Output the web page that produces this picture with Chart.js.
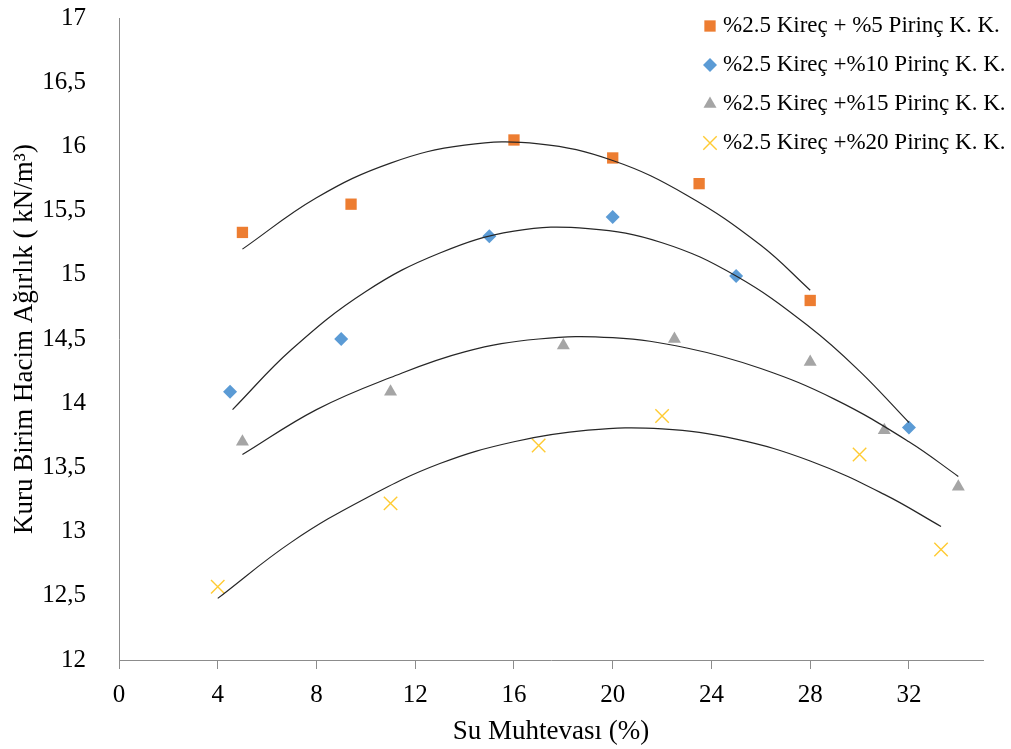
<!DOCTYPE html>
<html>
<head>
<meta charset="utf-8">
<script src="https://cdn.jsdelivr.net/npm/chart.js@4.4.1/dist/chart.umd.min.js"></script>
<style>
  html, body { margin: 0; padding: 0; background: #fff; }
  #chart { display: block; }
</style>
</head>
<body>
<canvas id="chart" width="1011" height="749"></canvas>
<script>
const FONT = '"Liberation Serif", "Times New Roman", serif';

const seriesNames = [
  "%2.5 Kireç + %5 Pirinç K. K.",
  "%2.5 Kireç +%10 Pirinç K. K.",
  "%2.5 Kireç +%15 Pirinç K. K.",
  "%2.5 Kireç +%20 Pirinç K. K.",
];

// measured points (water content %, dry unit weight kN/m3)
const water5 = [5, 9.4, 16, 20, 23.5, 28];
const unit5 = [15.33, 15.55, 16.05, 15.91, 15.71, 14.8];

const water10 = [4.5, 9, 15, 20, 25, 32];
const unit10 = [14.09, 14.5, 15.3, 15.45, 14.99, 13.81];

const water15 = [5, 11, 18, 22.5, 28, 31, 34];
const unit15 = [13.7, 14.09, 14.45, 14.5, 14.32, 13.79, 13.35];

const water20 = [4, 11, 17, 22, 30, 33.3];
const unit20 = [12.57, 13.22, 13.67, 13.9, 13.6, 12.86];

// trendlines
const trend5X = [5, 8, 11, 14, 17, 20, 23, 26, 28];
const trend5Y = [15.2, 15.6, 15.87, 16.01, 16.02, 15.89, 15.62, 15.23, 14.88];

const trend10X = [4.6, 7, 10, 13, 16, 19, 22, 25, 28, 30, 32];
const trend10Y = [13.95, 14.42, 14.87, 15.17, 15.34, 15.36, 15.25, 14.99, 14.59, 14.25, 13.85];

const trend15X = [5, 8, 11, 14, 17, 20, 23, 26, 29, 32, 34];
const trend15Y = [13.6, 13.95, 14.2, 14.4, 14.5, 14.51, 14.43, 14.27, 14.03, 13.7, 13.43];

const trend20X = [4, 7, 10, 13, 16, 19, 22, 25, 28, 31, 33.3];
const trend20Y = [12.48, 12.92, 13.26, 13.53, 13.7, 13.79, 13.8, 13.72, 13.55, 13.29, 13.04];

function toPoints(xs, ys) {
  return xs.map((x, i) => ({ x, y: ys[i] }));
}

function markerSet(label, xs, ys, color, style, radius, lineWidth = 0) {
  return {
    label,
    data: toPoints(xs, ys),
    showLine: false,
    pointStyle: style,
    pointRadius: radius,
    pointHoverRadius: radius,
    pointBackgroundColor: color,
    pointBorderColor: color,
    pointBorderWidth: lineWidth,
    order: 1,
  };
}

function trendSet(xs, ys) {
  return {
    label: "",
    isTrend: true,
    data: toPoints(xs, ys),
    showLine: true,
    borderColor: "#262626",
    borderWidth: 1.2,
    pointRadius: 0,
    tension: 0.4,
    order: 0,
  };
}

// legend sits inside the plot, top right
const cornerLegend = {
  id: "cornerLegend",
  afterDraw(chart) {
    const ctx = chart.ctx;
    const marks = chart.data.datasets.filter((d) => !d.isTrend);
    ctx.save();
    ctx.font = `23px ${FONT}`;
    ctx.textBaseline = "middle";
    marks.forEach((d, i) => {
      const y = 26 + i * 39;
      ctx.fillStyle = d.pointBackgroundColor;
      ctx.strokeStyle = d.pointBorderColor;
      ctx.lineWidth = d.pointBorderWidth;
      Chart.helpers.drawPoint(
        ctx,
        { pointStyle: d.pointStyle, radius: d.pointRadius, rotation: 0, borderWidth: d.pointBorderWidth },
        710,
        y
      );
      ctx.fillStyle = "#000";
      ctx.fillText(d.label, 723, y);
    });
    ctx.restore();
  },
};

function init() {
  new Chart(document.getElementById("chart"), {
    type: "scatter",
    data: {
      datasets: [
        markerSet(seriesNames[0], water5, unit5, "#ED7D31", "rect", 8),
        markerSet(seriesNames[1], water10, unit10, "#5B9BD5", "rectRot", 7),
        markerSet(seriesNames[2], water15, unit15, "#A5A5A5", "triangle", 7.5),
        markerSet(seriesNames[3], water20, unit20, "#FFCB33", "crossRot", 9.5, 1.4),
        trendSet(trend5X, trend5Y),
        trendSet(trend10X, trend10Y),
        trendSet(trend15X, trend15Y),
        trendSet(trend20X, trend20Y),
      ],
    },
    options: {
      responsive: false,
      animation: false,
      devicePixelRatio: 1,
      layout: { padding: { left: 0, top: 18, right: 28, bottom: 0 } },
      plugins: {
        legend: { display: false },
        tooltip: { enabled: false },
      },
      scales: {
        x: {
          type: "linear",
          min: 0,
          max: 35,
          afterBuildTicks: (s) => {
            s.ticks = s.ticks.filter((t) => t.value % 4 === 0);
          },
          afterFit: (s) => {
            s.height = 89;
          },
          ticks: {
            stepSize: 4,
            autoSkip: false,
            maxRotation: 0,
            padding: 11,
            color: "#000",
            font: { family: FONT, size: 25 },
          },
          grid: { drawOnChartArea: false, drawTicks: true, tickLength: 9, color: "#8c8c8c" },
          border: { color: "#8c8c8c", width: 1 },
          title: {
            display: true,
            text: "Su Muhtevası (%)",
            color: "#000",
            font: { family: FONT, size: 27 },
            padding: { top: 0, bottom: 1 },
          },
        },
        y: {
          type: "linear",
          min: 12,
          max: 17,
          afterFit: (s) => {
            s.width = 119;
            s.paddingTop = 0;
            s.paddingBottom = 0;
          },
          ticks: {
            stepSize: 0.5,
            padding: 25,
            color: "#000",
            font: { family: FONT, size: 25 },
            callback: (v) => String(v).replace(".", ","),
          },
          grid: { display: false },
          border: { color: "#8c8c8c", width: 1 },
          title: {
            display: true,
            text: "Kuru Birim Hacim Ağırlık ( kN/m³)",
            color: "#000",
            font: { family: FONT, size: 27 },
            padding: { top: 9, bottom: 0 },
          },
        },
      },
    },
    plugins: [cornerLegend],
  });
}

window.addEventListener("load", init);
</script>
</body>
</html>
